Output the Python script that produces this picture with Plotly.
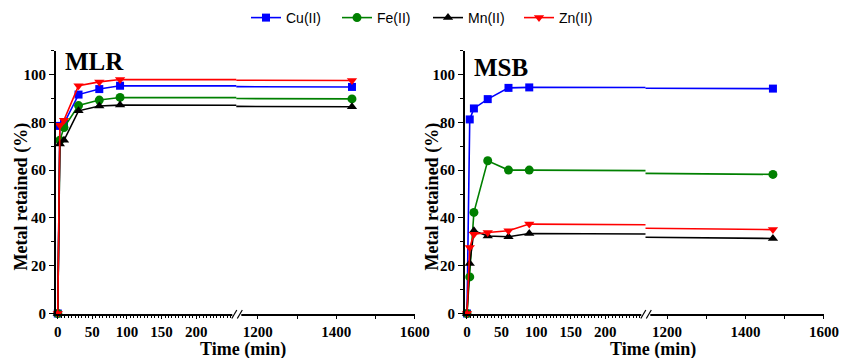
import plotly.graph_objects as go

# ---------------- data ----------------
series_names = ["Cu(II)", "Fe(II)", "Mn(II)", "Zn(II)"]

time_mlr = [0, 3, 9, 30, 60, 90, 1440]
cu_mlr = [0, 78.5, 79.5, 91.6, 93.9, 95.3, 94.8]
fe_mlr = [0, 72.5, 77.8, 87.0, 89.3, 90.4, 89.8]
mn_mlr = [0, 70.9, 72.5, 84.8, 86.8, 87.2, 86.5]
zn_mlr = [0, 78.8, 80.9, 95.3, 96.9, 97.9, 97.5]

time_msb = [0, 4, 10, 30, 60, 90, 1470]
cu_msb = [0, 81.2, 85.8, 89.7, 94.4, 94.6, 94.1]
fe_msb = [0, 15.3, 42.3, 63.9, 60.0, 60.0, 58.2]
mn_msb = [0, 20.9, 34.6, 32.4, 32.1, 33.5, 31.4]
zn_msb = [0, 27.6, 33.2, 33.9, 34.6, 37.4, 35.1]

x_ticks_low = [0, 50, 100, 150, 200]
x_ticks_high = [1200, 1400, 1600]

# ---------------- styles ----------------
colors = ["#0000FF", "#008000", "#000000", "#FF0000"]
symbols = ["square", "circle", "triangle-up", "triangle-down"]
msizes = [8, 9, 9, 9]

W, H = 846, 358
def px(x):
    return x / W
def py(y):
    return 1 - y / H

serif = "Liberation Serif"

fig = go.Figure()

panels = [
    ("MLR", time_mlr, [cu_mlr, fe_mlr, mn_mlr, zn_mlr], ("x", "x2"), "y"),
    ("MSB", time_msb, [cu_msb, fe_msb, mn_msb, zn_msb], ("x3", "x4"), "y2"),
]

for pi, (pname, tt, vals, xas, ya) in enumerate(panels):
    for si, v in enumerate(vals):
        for xa in xas:
            fig.add_trace(go.Scatter(
                x=tt, y=v, xaxis=xa, yaxis=ya,
                mode="lines+markers",
                name=series_names[si],
                legendgroup=series_names[si],
                showlegend=(pi == 0 and xa == "x"),
                line=dict(color=colors[si], width=1.6),
                marker=dict(symbol=symbols[si], size=msizes[si], color=colors[si]),
                cliponaxis=False,
            ))

tickfont = dict(family=serif, size=15, color="black", weight="bold")

def low_axis(domain):
    return dict(domain=domain, range=[-3, 258], tickmode="array", tickvals=x_ticks_low,
                ticks="outside", ticklen=4, tickwidth=1.3, tickcolor="black",
                minor=dict(dtick=5, tick0=0, ticks="outside", ticklen=3, tickwidth=1, tickcolor="black"),
                showline=True, linecolor="black", linewidth=1.6, showgrid=False, zeroline=False,
                tickfont=tickfont, fixedrange=True, automargin=False)

def high_axis(domain, anchor):
    return dict(domain=domain, range=[1145, 1600], tickmode="array", tickvals=x_ticks_high,
                ticks="outside", ticklen=4, tickwidth=1.3, tickcolor="black",
                minor=dict(tickmode="array", tickvals=[1300, 1500], ticks="outside", ticklen=4,
                           tickwidth=1, tickcolor="black"),
                showline=True, linecolor="black", linewidth=1.6, showgrid=False, zeroline=False,
                tickfont=tickfont, anchor=anchor, fixedrange=True, automargin=False)

ydom = [py(313.5), py(50.6)]
def y_axis(anchor):
    return dict(domain=ydom, range=[0, 110], tickmode="array", tickvals=[0, 20, 40, 60, 80, 100],
                ticks="outside", ticklen=5, tickwidth=1.3, tickcolor="black",
                minor=dict(dtick=10, tick0=0, ticks="outside", ticklen=3, tickwidth=1, tickcolor="black"),
                showline=True, linecolor="black", linewidth=1.6, showgrid=False, zeroline=False,
                tickfont=tickfont, anchor=anchor, fixedrange=True, automargin=False)

fig.update_layout(
    width=W, height=H,
    margin=dict(l=0, r=0, t=0, b=0, pad=0, autoexpand=False),
    paper_bgcolor="white", plot_bgcolor="white",
    xaxis=dict(low_axis([px(55.7), px(236.3)]), anchor="y"),
    xaxis2=high_axis([px(236.3), px(414.7)], "y"),
    xaxis3=dict(low_axis([px(464.9), px(645.5)]), anchor="y2"),
    xaxis4=high_axis([px(645.5), px(823.9)], "y2"),
    yaxis=y_axis("x"),
    yaxis2=y_axis("x3"),
    legend=dict(orientation="h", x=px(428), xanchor="center", y=py(18), yanchor="middle",
                font=dict(family="Liberation Sans", size=14, color="black"),
                bgcolor="rgba(0,0,0,0)", itemwidth=30, tracegroupgap=0,
                entrywidth=46, entrywidthmode="pixels"),
    showlegend=True,
)

shapes = []
# axis break marks
for (x0, x1) in [(232.3, 241.3), (641.3, 650.3)]:
    shapes.append(dict(type="rect", xref="paper", yref="paper",
                       x0=px(x0), x1=px(x1), y0=py(323), y1=py(309),
                       fillcolor="white", line=dict(width=0), layer="above"))
    shapes.append(dict(type="line", xref="paper", yref="paper",
                       x0=px(x0 - 0.5), y0=py(318.5), x1=px(x0 + 4.5), y1=py(310.0),
                       line=dict(color="black", width=1.2), layer="above"))
    shapes.append(dict(type="line", xref="paper", yref="paper",
                       x0=px(x0 + 5.0), y0=py(318.5), x1=px(x0 + 10.0), y1=py(310.0),
                       line=dict(color="black", width=1.2), layer="above"))
fig.update_layout(shapes=shapes)

ann = []
for (cx, lbl, ty) in [(94, "MLR", 62), (501, "MSB", 67)]:
    ann.append(dict(text=lbl, x=px(cx), y=py(ty), xref="paper", yref="paper",
                    showarrow=False, xanchor="center", yanchor="middle",
                    font=dict(family=serif, size=25, color="black", weight="bold")))
for cx in [243, 653]:
    ann.append(dict(text="Time (min)", x=px(cx), y=py(349), xref="paper", yref="paper",
                    showarrow=False, xanchor="center", yanchor="middle",
                    font=dict(family=serif, size=18, color="black", weight="bold")))
for cx in [20.5, 431.5]:
    ann.append(dict(text="Metal retained (%)", x=px(cx), y=py(197), xref="paper", yref="paper",
                    showarrow=False, xanchor="center", yanchor="middle", textangle=-90,
                    font=dict(family=serif, size=18, color="black", weight="bold")))
fig.update_layout(annotations=ann)

fig.write_html("out.html", config={"responsive": False, "displayModeBar": False},
               post_script="document.body.style.margin='0';document.body.style.padding='0';")
